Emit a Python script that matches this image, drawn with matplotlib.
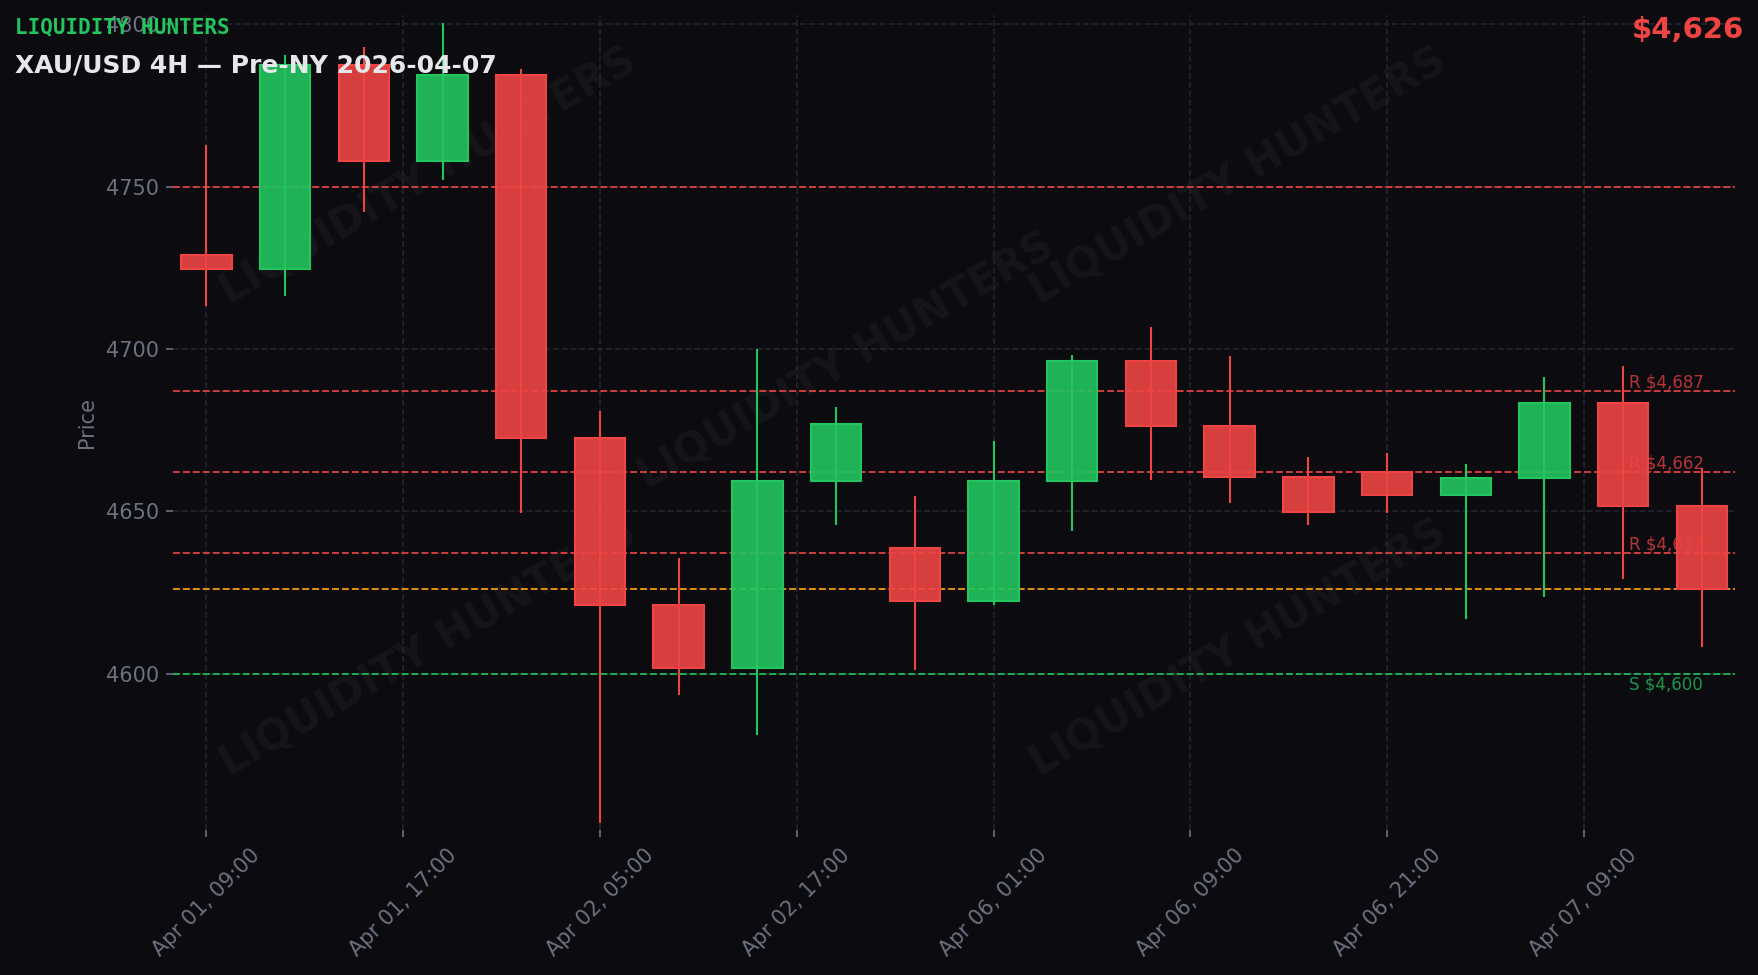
import matplotlib
matplotlib.use("Agg")
import matplotlib.pyplot as plt
from matplotlib.ticker import FuncFormatter

# ---- data ----
times = ["Apr 01, 09:00", "Apr 01, 13:00", "Apr 01, 17:00", "Apr 01, 21:00",
         "Apr 02, 01:00", "Apr 02, 05:00", "Apr 02, 09:00", "Apr 02, 13:00",
         "Apr 02, 17:00", "Apr 02, 21:00", "Apr 06, 01:00", "Apr 06, 05:00",
         "Apr 06, 09:00", "Apr 06, 13:00", "Apr 06, 17:00", "Apr 06, 21:00",
         "Apr 07, 01:00", "Apr 07, 05:00", "Apr 07, 09:00", "Apr 07, 13:00"]
opens  = [4729.0, 4724.5, 4787.5, 4758.0, 4784.4, 4672.5, 4621.2, 4601.8, 4659.3, 4638.8,
          4622.5, 4659.3, 4696.4, 4676.3, 4660.6, 4662.2, 4655.1, 4660.2, 4683.3, 4651.6]
highs  = [4762.9, 4790.6, 4793.0, 4800.5, 4786.3, 4680.8, 4635.7, 4700.0, 4682.1, 4654.7,
          4671.7, 4698.2, 4706.8, 4697.9, 4666.8, 4668.0, 4664.6, 4691.3, 4694.8, 4663.4]
lows   = [4713.4, 4716.4, 4742.3, 4752.0, 4649.6, 4554.0, 4593.3, 4581.0, 4645.8, 4601.0,
          4621.0, 4643.8, 4659.7, 4652.4, 4645.8, 4649.6, 4616.9, 4623.7, 4629.2, 4608.1]
closes = [4724.5, 4787.5, 4758.0, 4784.4, 4672.5, 4621.2, 4601.8, 4659.3, 4676.9, 4622.5,
          4659.3, 4696.4, 4676.3, 4660.6, 4649.9, 4655.1, 4660.2, 4683.3, 4651.6, 4626.0]

round_levels = [4750]
resistance_levels = [4687, 4662, 4637]
support_levels = [4600]
current_price = closes[-1]

title = "XAU/USD 4H \u2014 Pre-NY 2026-04-07"
brand = "LIQUIDITY HUNTERS"

# ---- style ----
BG = "#0b0b10"
GREEN = "#22c55e"
RED = "#ef4444"
AMBER = "#f59e0b"
GRAY = "#6b7280"
GRID = "#23242e"

plt.rcParams['font.family'] = ['DejaVu Sans']

fig = plt.figure(figsize=(11.72, 6.5), dpi=150, facecolor=BG)
ax = fig.add_axes([0.0986, 0.1487, 0.8883, 0.8359])
ax.set_facecolor(BG)

n = len(opens)
xs = list(range(n))
up = [c >= o for o, c in zip(opens, closes)]
cols = [GREEN if u else RED for u in up]

# watermarks
for (wx, wy) in [(0.163, 0.802), (0.682, 0.802), (0.431, 0.575), (0.163, 0.223), (0.682, 0.223)]:
    ax.text(wx, wy, brand, transform=ax.transAxes, rotation=30, ha='center', va='center',
            fontsize=20, fontweight='bold', color='white', alpha=0.045, zorder=0)

ax.grid(True, color=GRID, linestyle='--', linewidth=0.8, zorder=0.5)
ax.set_axisbelow(True)

# levels
for lv in round_levels + resistance_levels:
    ax.axhline(lv, color=RED, linestyle='--', linewidth=0.9, alpha=0.9, zorder=1)
for lv in support_levels:
    ax.axhline(lv, color=GREEN, linestyle='--', linewidth=0.9, alpha=0.9, zorder=1)
ax.axhline(current_price, color=AMBER, linestyle='--', linewidth=0.9, alpha=0.95, zorder=1)

# candles
ax.vlines(xs, lows, highs, colors=cols, linewidth=1.0, zorder=2)
bodies = [c - o for o, c in zip(opens, closes)]
ax.bar(xs, bodies, bottom=opens, width=0.64, color=cols, alpha=0.9, edgecolor='none', zorder=3)
ax.bar(xs, bodies, bottom=opens, width=0.64, facecolor='none', edgecolor=cols, linewidth=1.0, zorder=3.1)

# level labels
for lv in resistance_levels:
    ax.text(18.08, lv - 0.1, f"R ${lv:,}", color=RED, alpha=0.75, fontsize=8,
            ha='left', va='bottom', zorder=4)
for lv in support_levels:
    ax.text(18.08, lv - 0.6, f"S ${lv:,}", color=GREEN, alpha=0.75, fontsize=8,
            ha='left', va='top', zorder=4)

ax.set_xlim(-0.42, 19.42)
ax.set_ylim(4551.8, 4802.9)

ax.xaxis.set_major_formatter(FuncFormatter(
    lambda v, p: times[int(round(v))] if 0 <= round(v) < n else ""))
for sp in ax.spines.values():
    sp.set_visible(False)
ax.tick_params(axis='both', colors=GRAY, labelsize=10)
plt.setp(ax.get_xticklabels(), rotation=45, ha='center')
ax.set_ylabel("Price", color=GRAY, fontsize=10)

fig.text(0.0085, 0.966, brand, family='DejaVu Sans Mono', fontweight='bold',
         fontsize=10, color=GREEN, va='baseline', ha='left')
fig.text(0.0085, 0.9255, title, fontweight='bold', fontsize=12, color='#e5e7eb',
         va='baseline', ha='left')
fig.text(0.992, 0.961, f"${current_price:,.0f}", fontweight='bold', fontsize=14,
         color=RED, va='baseline', ha='right')

fig.savefig("out.png", dpi=150, facecolor=BG)
